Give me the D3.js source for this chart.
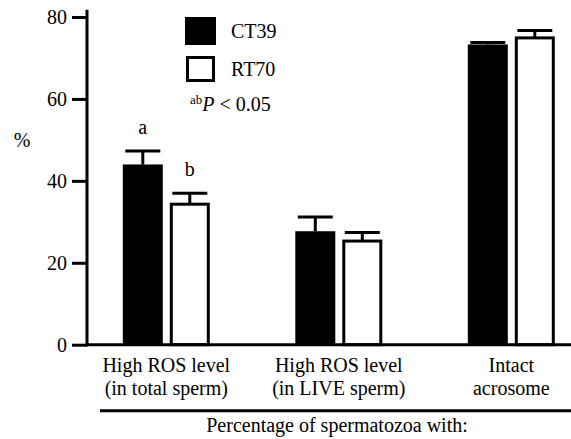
<!DOCTYPE html>
<html>
<head>
<meta charset="utf-8">
<script src="https://cdn.jsdelivr.net/npm/d3@7"></script>
<style>
  body { margin: 0; background: #fff; }
</style>
</head>
<body>
<div id="viz-container"></div>
<script>
const categories = ['total', 'live', 'acrosome'];
const categoryLabels = [['High ROS level', '(in total sperm)'], ['High ROS level', '(in LIVE sperm)'], ['Intact', 'acrosome']];
const series = ['CT39', 'RT70'];
const ct39Values = [44.0, 27.7, 73.3];
const ct39Errors = [3.3, 3.5, 0.5];
const rt70Values = [34.3, 25.3, 74.9];
const rt70Errors = [2.7, 2.1, 1.8];
const yTicks = [0, 20, 40, 60, 80];
const sigLetters = [['a', 'b'], ['', ''], ['', '']];

const width = 571,
      height = 439,
      fontSize = '20px';

const svg = d3.select('#viz-container')
  .append('svg')
    .attr('width', width)
    .attr('height', height);

const y = d3.scaleLinear().domain([0, 80]).range([344.7, 17]);
const x0 = d3.scalePoint().domain(categories).range([166.3, 511.3]);
const x1 = d3.scaleBand().domain(series).range([-43.5, 43.5]).paddingInner(0.149);

const data = categories.map((c, i) => ({
  cat: c,
  bars: [
    {s: 'CT39', v: ct39Values[i], e: ct39Errors[i], sig: sigLetters[i][0]},
    {s: 'RT70', v: rt70Values[i], e: rt70Errors[i], sig: sigLetters[i][1]}
  ]
}));

// y axis
const yAxis = d3.axisLeft(y).tickValues(yTicks).tickSize(15).tickPadding(5).tickSizeOuter(0);
const gy = svg.append('g').attr('transform', 'translate(87,0)').call(yAxis);
gy.select('.domain').remove();
gy.selectAll('.tick line').attr('stroke', '#000').attr('stroke-width', 3);
gy.selectAll('.tick text').attr('fill', '#000').attr('dy', '0.33em');
svg.append('line')
  .attr('x1', 87).attr('x2', 87)
  .attr('y1', y(81.8)).attr('y2', y(0) + 1.5)
  .attr('stroke', '#000').attr('stroke-width', 3);

svg.append('text').attr('x', 22).attr('y', 146.5)
  .attr('text-anchor', 'middle').text('%');

// bars
const groups = svg.selectAll('g.grp')
  .data(data)
  .enter()
  .append('g')
    .attr('class', 'grp')
    .attr('transform', d => 'translate(' + x0(d.cat) + ',0)');

const bw = x1.bandwidth();
groups.selectAll('g.bar')
  .data(d => d.bars)
  .enter()
  .append('g').attr('class', 'bar')
  .call(parent => {
    // error bars
    parent.append('line')
      .attr('x1', d => x1(d.s) + bw / 2).attr('x2', d => x1(d.s) + bw / 2)
      .attr('y1', d => y(d.v)).attr('y2', d => y(d.v + d.e))
      .attr('stroke', '#000').attr('stroke-width', 3);
    parent.append('line')
      .attr('x1', d => x1(d.s) + bw / 2 - 17.5).attr('x2', d => x1(d.s) + bw / 2 + 17.5)
      .attr('y1', d => y(d.v + d.e)).attr('y2', d => y(d.v + d.e))
      .attr('stroke', '#000').attr('stroke-width', 3);
    parent.append('rect')
      .attr('x', d => d.s === 'CT39' ? x1(d.s) : x1(d.s) + 1.5)
      .attr('y', d => y(d.v))
      .attr('width', d => d.s === 'CT39' ? bw : bw - 3)
      .attr('height', d => y(0) - y(d.v))
      .attr('fill', d => d.s === 'CT39' ? '#000' : '#fff')
      .attr('stroke', d => d.s === 'CT39' ? 'none' : '#000')
      .attr('stroke-width', 3);
    parent.append('text')
      .attr('x', d => x1(d.s) + bw / 2)
      .attr('y', d => y(d.v + d.e) - 17)
      .attr('text-anchor', 'middle')
      .text(d => d.sig);
  });

// x baseline
svg.append('line')
  .attr('x1', 85.5).attr('x2', width)
  .attr('y1', y(0)).attr('y2', y(0))
  .attr('stroke', '#000').attr('stroke-width', 3);

// category labels
categories.forEach((c, i) => {
  const t = svg.append('text')
    .attr('text-anchor', 'middle');
  t.append('tspan').attr('x', x0(c)).attr('y', 372).text(categoryLabels[i][0]);
  t.append('tspan').attr('x', x0(c)).attr('y', 395).text(categoryLabels[i][1]);
});

svg.append('line')
  .attr('x1', 100).attr('x2', width)
  .attr('y1', 410.7).attr('y2', 410.7)
  .attr('stroke', '#000').attr('stroke-width', 3);

svg.append('text').attr('x', 337).attr('y', 432)
  .attr('text-anchor', 'middle')
  .text('Percentage of spermatozoa with:');

// legend
const legend = svg.append('g');
legend.append('rect').attr('x', 185).attr('y', 17).attr('width', 31).attr('height', 28).attr('fill', '#000');
legend.append('rect').attr('x', 187.5).attr('y', 57.5).attr('width', 26).attr('height', 23)
  .attr('fill', '#fff').attr('stroke', '#000').attr('stroke-width', 3);
legend.append('text').attr('x', 231).attr('y', 38).text('CT39');
legend.append('text').attr('x', 231).attr('y', 76).text('RT70');
const pt = legend.append('text').attr('x', 190).attr('y', 111);

// serif font on every text element
svg.selectAll('text')
  .style('font-family', 'Liberation Serif')
  .style('font-size', fontSize);

pt.append('tspan').style('font-size', '13px').attr('dy', -7).text('ab');
pt.append('tspan').style('font-style', 'italic').attr('dy', 7).text('P');
pt.append('tspan').text(' < 0.05');
</script>
</body>
</html>
